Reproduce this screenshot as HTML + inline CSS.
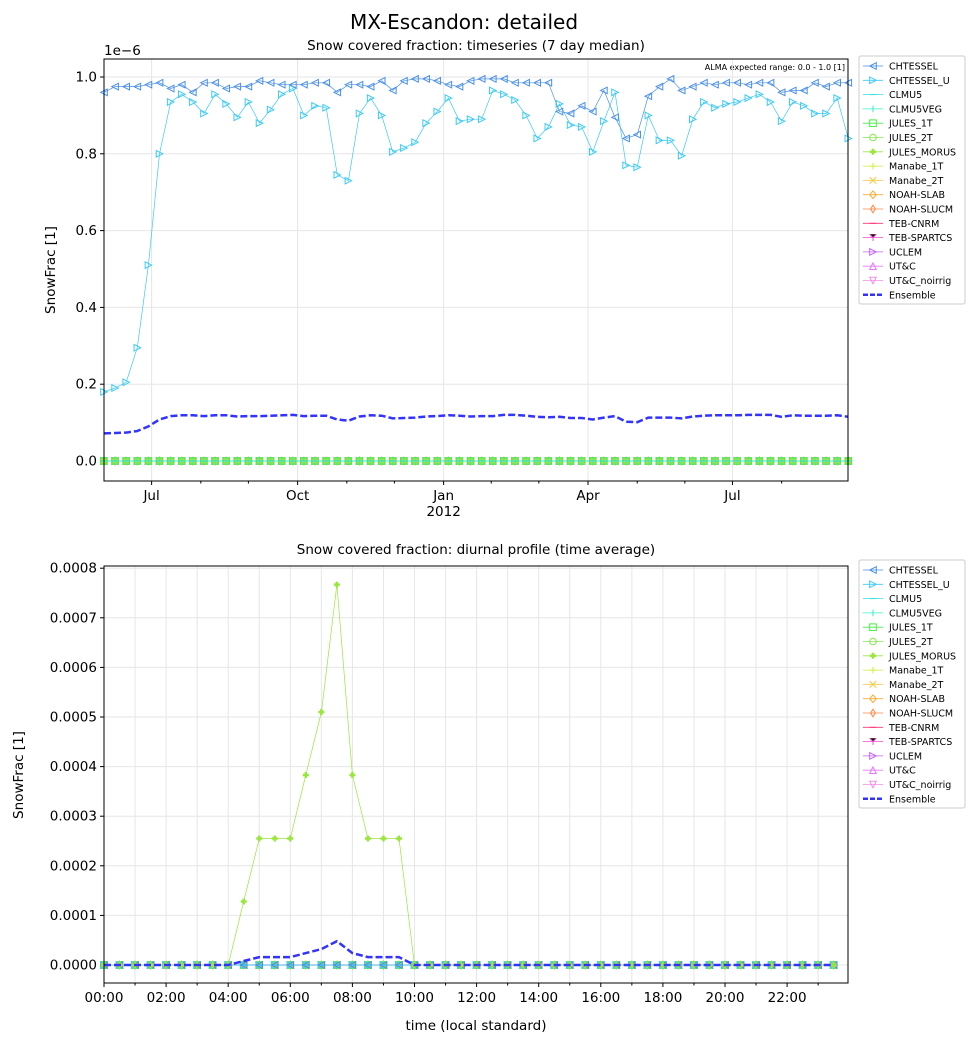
<!DOCTYPE html>
<html><head><meta charset="utf-8"><style>
body{margin:0;background:#fff;font-family:"Liberation Sans","DejaVu Sans",sans-serif}
svg text{font-family:"DejaVu Sans","Liberation Sans",sans-serif}
</style></head><body>
<svg id="s" width="978" height="1044" xmlns="http://www.w3.org/2000/svg">
<rect width="978" height="1044" fill="#fff"/>
<text x="464" y="29" font-size="20" text-anchor="middle">MX-Escandon: detailed</text>
<text x="476" y="50" font-size="13.5" text-anchor="middle">Snow covered fraction: timeseries (7 day median)</text>
<text x="476" y="554" font-size="13.5" text-anchor="middle">Snow covered fraction: diurnal profile (time average)</text>
<text x="104" y="55" font-size="13.5">1e−6</text>
<text x="55" y="270" font-size="13.5" text-anchor="middle" transform="rotate(-90 55 270)">SnowFrac [1]</text>
<text x="23" y="775" font-size="13.5" text-anchor="middle" transform="rotate(-90 23 775)">SnowFrac [1]</text>
<text x="476" y="1030" font-size="13.5" text-anchor="middle">time (local standard)</text>
<text x="845" y="70" font-size="8" text-anchor="end">ALMA expected range: 0.0 - 1.0 [1]</text>
<g id="top"></g><g id="bot"></g>
</svg>
<script>
const NS="http://www.w3.org/2000/svg";
const svg=document.getElementById('s');
const seriesNames=["CHTESSEL","CHTESSEL_U","CLMU5","CLMU5VEG","JULES_1T","JULES_2T","JULES_MORUS","Manabe_1T","Manabe_2T","NOAH-SLAB","NOAH-SLUCM","TEB-CNRM","TEB-SPARTCS","UCLEM","UT&C","UT&C_noirrig","Ensemble"];
const seriesColors=["#4a8fe8","#3ccaf5","#2fe0e0","#35f0c0","#44ee44","#7fe84a","#99e63c","#ccf03a","#f5c83a","#ffaa33","#ff8844","#ff3377","#ff44cc","#c460ff","#e877ff","#f58ae8","#3333ff"];
const seriesMarkers=["<",">","_","|","s","h","P","+","x","D","d","_","1",">","^","v",null];
// top: weekly values starting ~2011-06-01
const topChtessel=[0.96,0.975,0.975,0.975,0.98,0.985,0.97,0.98,0.96,0.985,0.985,0.97,0.975,0.975,0.99,0.985,0.98,0.98,0.98,0.985,0.985,0.96,0.98,0.98,0.975,0.99,0.965,0.99,0.995,0.995,0.99,0.98,0.975,0.99,0.995,0.995,0.995,0.985,0.985,0.985,0.985,0.91,0.905,0.925,0.91,0.965,0.895,0.84,0.85,0.95,0.975,0.995,0.965,0.975,0.985,0.98,0.985,0.985,0.98,0.985,0.985,0.96,0.965,0.965,0.985,0.975,0.985,0.985];
const topChtesselU=[0.18,0.19,0.205,0.295,0.51,0.80,0.935,0.955,0.935,0.905,0.955,0.93,0.895,0.935,0.88,0.915,0.955,0.97,0.90,0.925,0.92,0.745,0.73,0.905,0.945,0.90,0.805,0.815,0.83,0.88,0.91,0.945,0.885,0.89,0.89,0.965,0.955,0.94,0.90,0.84,0.87,0.93,0.875,0.87,0.805,0.885,0.96,0.77,0.765,0.90,0.835,0.835,0.795,0.89,0.935,0.92,0.93,0.935,0.945,0.955,0.935,0.885,0.935,0.925,0.905,0.905,0.945,0.84];
const topEnsemble=[0.072,0.073,0.074,0.078,0.09,0.108,0.117,0.119,0.119,0.117,0.119,0.119,0.116,0.117,0.117,0.118,0.119,0.12,0.117,0.118,0.118,0.108,0.105,0.116,0.119,0.118,0.111,0.112,0.113,0.116,0.117,0.119,0.118,0.116,0.117,0.117,0.12,0.12,0.118,0.115,0.114,0.115,0.112,0.112,0.108,0.113,0.117,0.102,0.101,0.113,0.113,0.113,0.111,0.116,0.118,0.119,0.119,0.119,0.12,0.12,0.12,0.115,0.119,0.118,0.118,0.118,0.119,0.115];
const topYTicks=[0,0.2,0.4,0.6,0.8,1.0];
const topXTickLabels=["Jul","Oct","Jan","Apr","Jul"];
const topXTickDays=[30,122,214,305,396];
// bottom: half-hourly
const botMorus=[0,0,0,0,0,0,0,0,0,0.000128,0.000255,0.000255,0.000255,0.000383,0.00051,0.000767,0.000383,0.000255,0.000255,0.000255,0,0,0,0,0,0,0,0,0,0,0,0,0,0,0,0,0,0,0,0,0,0,0,0,0,0,0,0];
const botEnsemble=[0,0,0,0,0,0,0,0,0,0.000008,0.000016,0.000016,0.000016,0.000024,0.000032,0.000048,0.000024,0.000016,0.000016,0.000016,0,0,0,0,0,0,0,0,0,0,0,0,0,0,0,0,0,0,0,0,0,0,0,0,0,0,0,0];
const botYTicks=[0,0.0001,0.0002,0.0003,0.0004,0.0005,0.0006,0.0007,0.0008];

function el(t,a,p){const e=document.createElementNS(NS,t);for(const k in a)e.setAttribute(k,a[k]);(p||svg).appendChild(e);return e;}
function marker(g,m,x,y,c){
  const r=3.3;let e;
  if(m==="<")e=el('path',{d:`M${x-r},${y}L${x+r},${y-r}L${x+r},${y+r}Z`,fill:'none',stroke:c},g);
  else if(m===">")e=el('path',{d:`M${x+r},${y}L${x-r},${y-r}L${x-r},${y+r}Z`,fill:'none',stroke:c},g);
  else if(m==="^")e=el('path',{d:`M${x},${y-r}L${x-r},${y+r}L${x+r},${y+r}Z`,fill:'none',stroke:c},g);
  else if(m==="v")e=el('path',{d:`M${x},${y+r}L${x-r},${y-r}L${x+r},${y-r}Z`,fill:'none',stroke:c},g);
  else if(m==="s")e=el('rect',{x:x-r,y:y-r,width:2*r,height:2*r,fill:'none',stroke:c},g);
  else if(m==="h")e=el('circle',{cx:x,cy:y,r:r,fill:'none',stroke:c},g);
  else if(m==="D"||m==="d")e=el('path',{d:`M${x},${y-r-0.5}L${x+(m==="D"?r:r*0.7)},${y}L${x},${y+r+0.5}L${x-(m==="D"?r:r*0.7)},${y}Z`,fill:'none',stroke:c},g);
  else if(m==="P")e=el('path',{d:`M${x-3},${y}H${x+3}M${x},${y-3}V${y+3}`,stroke:c,'stroke-width':2.5},g);
  else if(m==="+")e=el('path',{d:`M${x-r},${y}H${x+r}M${x},${y-r}V${y+r}`,stroke:c},g);
  else if(m==="x")e=el('path',{d:`M${x-r},${y-r}L${x+r},${y+r}M${x-r},${y+r}L${x+r},${y-r}`,stroke:c},g);
  else if(m==="_")e=el('path',{d:`M${x-r},${y}H${x+r}`,stroke:c},g);
  else if(m==="|")e=el('path',{d:`M${x},${y-r}V${y+r}`,stroke:c},g);
  else if(m==="1")e=el('path',{d:`M${x},${y}V${y+r}M${x-r},${y-r}L${x},${y}L${x+r},${y-r}`,stroke:c},g);
  if(e){}
}
function legend(g,x0,y0){
  const box=el('rect',{x:x0,y:y0,width:106,height:248,fill:'#fff',stroke:'#ccc',rx:2},g);
  
  
  seriesNames.forEach((n,i)=>{
    const y=y0+10+i*14.3;const c=seriesColors[i];
    const l=el('line',{x1:x0+4,x2:x0+24,y1:y,y2:y,stroke:c,'stroke-width':i===16?2.5:0.8,'stroke-dasharray':i===16?'5,2':''},g);
    
    
    if(seriesMarkers[i])marker(g,seriesMarkers[i],x0+14,y,c);
    const t=el('text',{x:x0+30,y:y+3.5,'font-size':9.5},g);t.textContent=n;
    
    
  });
}
function frame(g,L,T,R,B){
  const f=el('rect',{x:L,y:T,width:R-L,height:B-T,fill:'none',stroke:'#000','stroke-width':1},g);
  
  
}
function path(g,pts,c,w,dash,name){
  const p=el('path',{d:pts.map((p,i)=>(i?'L':'M')+p[0].toFixed(1)+','+p[1].toFixed(1)).join(''),fill:'none',stroke:c,'stroke-width':w,'stroke-dasharray':dash||''},g);
  
  
}
// TOP
(function(){
  const g=document.getElementById('top');const L=104,R=848,T=59,B=481;
  const y=v=>461-v*384;const xd=d=>104+d*1.587;
  topYTicks.forEach(v=>{el('line',{x1:L,x2:R,y1:y(v),y2:y(v),stroke:'#e6e6e6'},g);el('line',{x1:L-4,x2:L,y1:y(v),y2:y(v),stroke:'#000'},g);
    const t=el('text',{x:L-7,y:y(v)+4.5,'font-size':13.5,'text-anchor':'end'},g);t.textContent=v.toFixed(1);
    });
  topXTickDays.forEach((d,i)=>{el('line',{x1:xd(d),x2:xd(d),y1:T,y2:B,stroke:'#e6e6e6'},g);el('line',{x1:xd(d),x2:xd(d),y1:B,y2:B+4,stroke:'#000'},g);
    const t=el('text',{x:xd(d),y:B+19,'font-size':13.5,'text-anchor':'middle'},g);t.textContent=topXTickLabels[i];
    });
  [61,91,153,183,244,274,336,366,427].forEach(d=>el('line',{x1:xd(d),x2:xd(d),y1:B,y2:B+2.5,stroke:'#000'},g));
  const yr=el('text',{x:xd(214),y:B+35,'font-size':13.5,'text-anchor':'middle'},g);yr.textContent="2012";
  
  const n=topChtessel.length;
  for(let s=15;s>=2;s--){const c=seriesColors[s];path(g,topChtessel.map((_,i)=>[xd(i*7),y(0)]),c,0.6,'','series-'+seriesNames[s]);
    for(let i=0;i<n;i++)marker(g,seriesMarkers[s],xd(i*7),y(0),c);}
  path(g,topChtesselU.map((v,i)=>[xd(i*7),y(v)]),seriesColors[1],0.7,'','series-CHTESSEL_U');
  topChtesselU.forEach((v,i)=>marker(g,'>',xd(i*7),y(v),seriesColors[1]));
  path(g,topChtessel.map((v,i)=>[xd(i*7),y(v)]),seriesColors[0],0.7,'','series-CHTESSEL');
  topChtessel.forEach((v,i)=>marker(g,'<',xd(i*7),y(v),seriesColors[0]));
  path(g,topEnsemble.map((v,i)=>[xd(i*7),y(v)]),'#3333ff',2.5,'7,3','series-Ensemble');
  const cl=el('clipPath',{id:'c1'},svg);el('rect',{x:L,y:T,width:R-L,height:B-T},cl);
  frame(g,L,T,R,B);legend(g,859,56);
})();
// BOTTOM
(function(){
  const g=document.getElementById('bot');const L=104,R=848,T=566,B=983;
  const y=v=>965-v*496000;const xh=h=>104+h*31.05;
  botYTicks.forEach(v=>{el('line',{x1:L,x2:R,y1:y(v),y2:y(v),stroke:'#e6e6e6'},g);el('line',{x1:L-4,x2:L,y1:y(v),y2:y(v),stroke:'#000'},g);
    const t=el('text',{x:L-7,y:y(v)+4.5,'font-size':13.5,'text-anchor':'end'},g);t.textContent=v.toFixed(4);
    });
  for(let h=0;h<24;h++){el('line',{x1:xh(h),x2:xh(h),y1:T,y2:B,stroke:'#e6e6e6'},g);el('line',{x1:xh(h),x2:xh(h),y1:B,y2:B+(h%2?2.5:4),stroke:'#000'},g);
    if(h%2===0){const t=el('text',{x:xh(h),y:B+19,'font-size':13.5,'text-anchor':'middle'},g);t.textContent=(h<10?'0':'')+h+':00';
      }}
  const n=botMorus.length;
  for(let s=15;s>=0;s--){if(s===6)continue;const c=seriesColors[s];path(g,botMorus.map((_,i)=>[xh(i/2),y(0)]),c,0.6,'','series-'+seriesNames[s]);
    for(let i=0;i<n;i++)marker(g,seriesMarkers[s],xh(i/2),y(0),c);}
  path(g,botMorus.map((v,i)=>[xh(i/2),y(v)]),seriesColors[6],0.7,'','series-JULES_MORUS');
  botMorus.forEach((v,i)=>marker(g,'P',xh(i/2),y(v),seriesColors[6]));
  path(g,botEnsemble.map((v,i)=>[xh(i/2),y(v)]),'#3333ff',2.5,'7,3','series-Ensemble');
  frame(g,L,T,R,B);legend(g,859,560);
})();
</script>
</body></html>
